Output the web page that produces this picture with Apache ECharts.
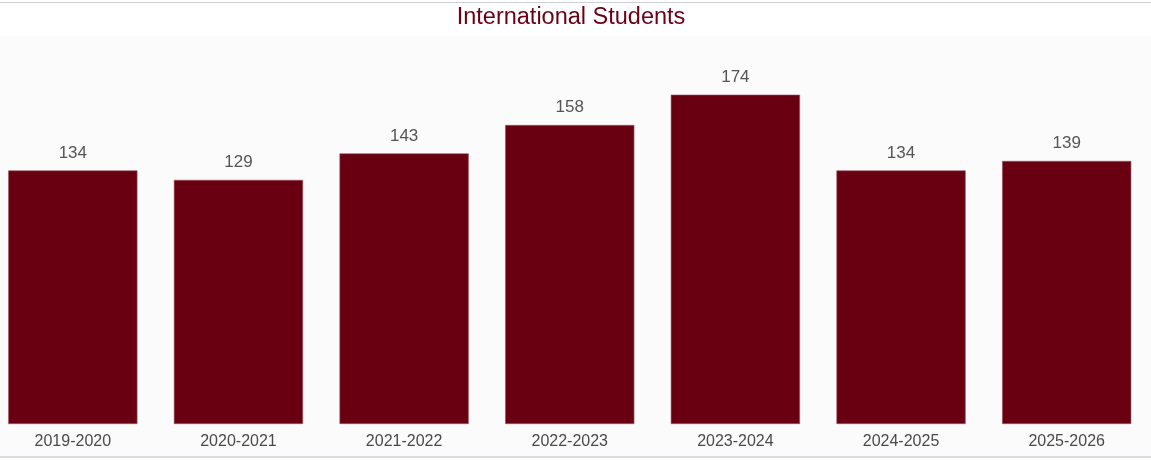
<!DOCTYPE html>
<html>
<head>
<meta charset="utf-8">
<title>International Students</title>
<script src="https://cdn.jsdelivr.net/npm/echarts@6/dist/echarts.min.js"></script>
<style>
  html, body { margin: 0; padding: 0; background: #ffffff; overflow: hidden; }
  /* the bars run a little past the left edge, so the canvas is shifted left */
  #chart { width: 1162px; height: 461px; margin-left: -10px; }
</style>
</head>
<body>
<div id="chart"></div>
<script>
var years = ['2019-2020', '2020-2021', '2021-2022', '2022-2023', '2023-2024', '2024-2025', '2025-2026'];
var students = [134, 129, 143, 158, 174, 134, 139];

var option = {
    backgroundColor: '#ffffff',
    animation: false,
    // panel background and the thin rules top / bottom
    graphic: [
        { type: 'rect', z: -10, shape: { x: 10, y: 36, width: 1152, height: 420 }, style: { fill: '#fbfbfb' } },
        { type: 'rect', z: -5, shape: { x: 10, y: 2, width: 1152, height: 1 }, style: { fill: '#cfd0d6' } },
        { type: 'rect', z: -5, shape: { x: 10, y: 456, width: 1152, height: 2 }, style: { fill: '#dcdde2' } }
    ],
    title: {
        text: 'International Students',
        left: 'center',
        top: 1,
        textStyle: {
            color: '#6b0016',
            fontSize: 23.5,
            fontWeight: 'normal',
            fontFamily: 'Liberation Sans, Arial, sans-serif'
        }
    },
    grid: {
        left: 0,
        right: 2.5,
        top: 45.5,
        bottom: 37,
        containLabel: false
    },
    xAxis: {
        type: 'category',
        data: years,
        axisLine: { show: false },
        axisTick: { show: false },
        axisLabel: {
            color: '#4a4a4a',
            fontSize: 16,
            margin: 10,
            fontFamily: 'Liberation Sans, Arial, sans-serif'
        }
    },
    yAxis: {
        type: 'value',
        min: 0,
        max: 200,
        show: false,
        splitLine: { show: false }
    },
    series: [
        {
            name: 'International Students',
            type: 'bar',
            data: students,
            barCategoryGap: '22%',
            itemStyle: {
                color: '#680012',
                borderColor: '#9c5563',
                borderWidth: 0.6
            },
            label: {
                show: true,
                position: 'top',
                distance: 9,
                color: '#555555',
                fontSize: 17,
                fontFamily: 'Liberation Sans, Arial, sans-serif'
            }
        }
    ]
};

var echart = echarts.init(document.getElementById('chart'));
echart.setOption(option);
</script>
</body>
</html>
